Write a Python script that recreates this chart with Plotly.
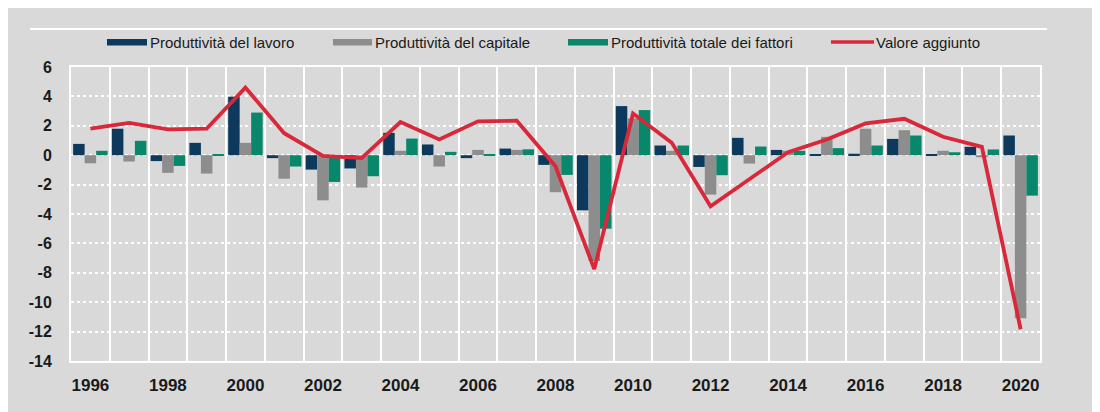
import plotly.graph_objects as go

years = list(range(1996, 2021))

lavoro = [0.77, 1.8, -0.4, 0.84, 3.98, -0.2, -0.98, -0.9, 1.52, 0.73, -0.2, 0.45, -0.66,
          -3.75, 3.34, 0.66, -0.8, 1.18, 0.36, 0.05, 0.1, 1.11, 0.05, 0.57, 1.34]
capitale = [-0.55, -0.43, -1.2, -1.25, 0.84, -1.6, -3.07, -2.2, 0.3, -0.77, 0.36, 0.36, -2.52,
            -7.2, 2.5, 0.3, -2.68, -0.57, 0.3, 1.25, 1.8, 1.7, 0.3, -0.14, -11.1]
fattori = [0.3, 0.98, -0.73, 0.03, 2.9, -0.77, -1.82, -1.43, 1.13, 0.23, 0.03, 0.4, -1.34,
           -5.0, 3.07, 0.66, -1.36, 0.59, 0.3, 0.48, 0.66, 1.34, 0.2, 0.39, -2.75]
valore = [1.8, 2.2, 1.75, 1.8, 4.6, 1.5, -0.05, -0.2, 2.25, 1.07, 2.3, 2.35, -0.75,
          -7.75, 2.84, 0.84, -3.48, -1.66, 0.2, 1.07, 2.16, 2.48, 1.25, 0.57, -11.84]

series_names = ["Produttività del lavoro", "Produttività del capitale",
                "Produttività totale dei fattori", "Valore aggiunto"]
year_ticks = list(range(1996, 2021, 2))
y_ticks = list(range(-14, 7, 2))

NAVY = "#0d3a5c"
GREY = "#8d8d8d"
GREEN = "#08876a"
RED = "#d8283a"
BG = "#d9d9d9"
FONT = "Liberation Sans, Arial, sans-serif"

W, H = 1100, 412
ML, MR, MT, MB = 63, 68, 59, 59
PW, PH = W - ML - MR, H - MT - MB


def px(x):
    return (x - ML) / PW


def py(y):
    return (H - MB - y) / PH


fig = go.Figure()
for vals, color, name in zip([lavoro, capitale, fattori], [NAVY, GREY, GREEN], series_names):
    fig.add_trace(go.Bar(x=years, y=vals, name=name, marker=dict(color=color, line_width=0)))

fig.add_trace(go.Scatter(x=years, y=valore, name=series_names[3], mode="lines",
                         line=dict(color=RED, width=3.8)))

shapes = [
    dict(type="line", xref="paper", yref="paper", x0=px(22), x1=px(1039), y0=py(21), y1=py(21),
         line=dict(color="white", width=2)),
]

# manual legend
sw = [(99, 139, NAVY), (325, 364, GREY), (560, 600, GREEN)]
for x0, x1, c in sw:
    shapes.append(dict(type="rect", xref="paper", yref="paper", x0=px(x0), x1=px(x1),
                       y0=py(37.5), y1=py(31), fillcolor=c, line_width=0))
shapes.append(dict(type="line", xref="paper", yref="paper", x0=px(823), x1=px(866),
                   y0=py(34), y1=py(34), line=dict(color=RED, width=3.5)))

annotations = []
for x, name in zip([140, 365, 601, 866], series_names):
    annotations.append(dict(x=px(x), y=py(34), xref="paper", yref="paper", text=name,
                            showarrow=False, xanchor="left", yanchor="middle",
                            font=dict(size=15, color="#1a1a1a", family=FONT)))

fig.update_layout(
    width=W, height=H,
    margin=dict(l=ML, r=MR, t=MT, b=MB, autoexpand=False),
    paper_bgcolor=BG,
    plot_bgcolor=BG,
    barmode="group",
    bargap=0.11,
    bargroupgap=0,
    showlegend=False,
    shapes=shapes,
    annotations=annotations,
    font=dict(family=FONT, color="#1a1a1a"),
)

fig.update_xaxes(
    range=[1995.5, 2020.5],
    tickmode="array", tickvals=year_ticks, ticktext=[str(y) for y in year_ticks],
    showgrid=False, zeroline=False, ticks="",
    tickfont=dict(size=17, family=FONT, weight="bold", color="#1a1a1a"),
    ticklabelstandoff=8,
    minor=dict(tickmode="array", tickvals=[y - 0.5 for y in years] + [2020.5],
               showgrid=True, gridcolor="white", gridwidth=2, ticks=""),
    showline=True, mirror=True, linecolor="white", linewidth=2,
)

fig.update_yaxes(
    range=[-14, 6],
    tickmode="array", tickvals=y_ticks, ticktext=[str(v) for v in y_ticks],
    showgrid=True, gridcolor="white", gridwidth=2, griddash="dot",
    zeroline=False, ticks="",
    tickfont=dict(size=16, family=FONT, weight="bold", color="#1a1a1a"),
    ticklabelstandoff=14,
    showline=True, mirror=True, linecolor="white", linewidth=2,
)

fig.write_html("out.html")
